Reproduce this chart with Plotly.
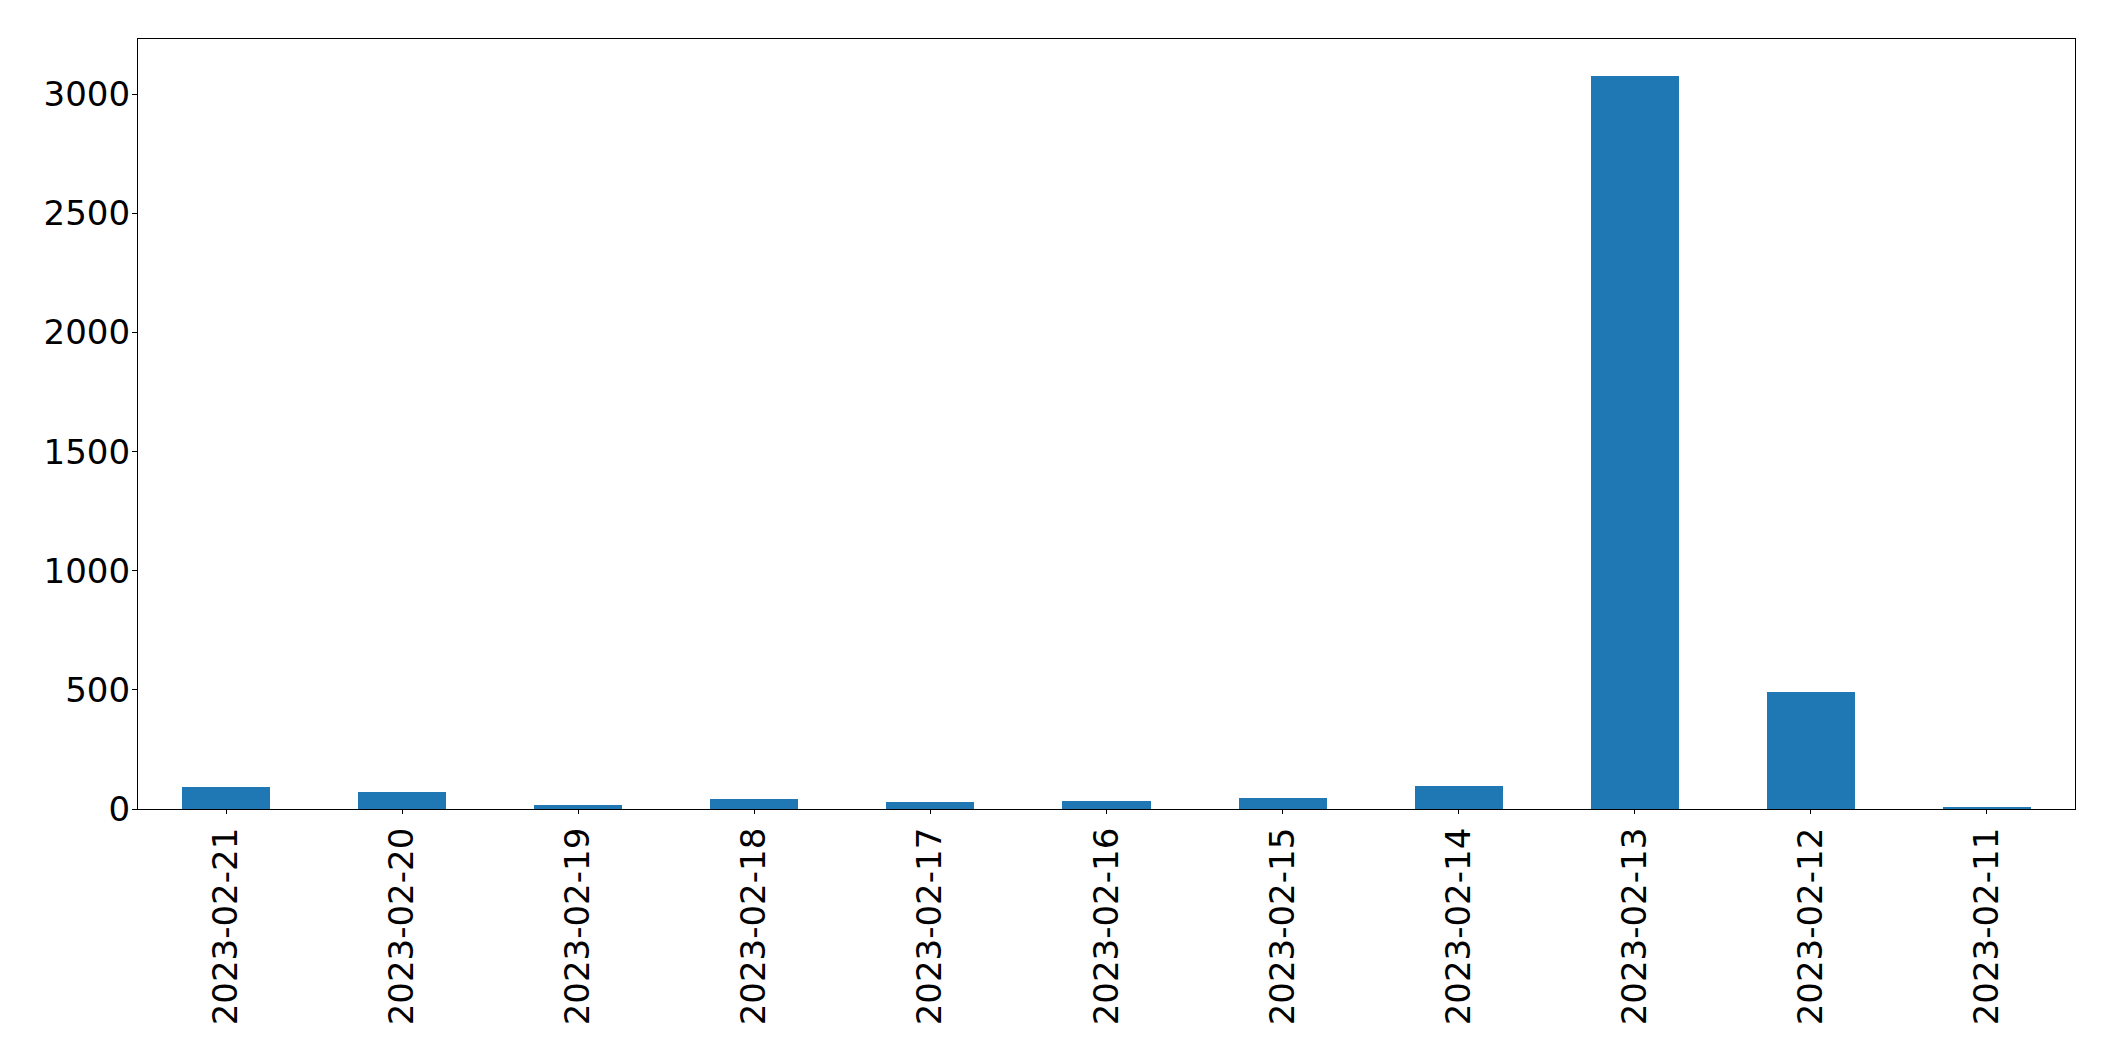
import plotly.graph_objects as go

dates = ["2023-02-21", "2023-02-20", "2023-02-19", "2023-02-18", "2023-02-17",
         "2023-02-16", "2023-02-15", "2023-02-14", "2023-02-13", "2023-02-12", "2023-02-11"]
counts = [94, 73, 18, 43, 29, 34, 46, 98, 3077, 492, 6]
ytick_vals = [0, 500, 1000, 1500, 2000, 2500, 3000]

fig = go.Figure(go.Bar(x=list(range(len(dates))), y=counts, width=0.5,
                       marker=dict(color="#1f77b4", line=dict(width=0))))

font = dict(family="DejaVu Sans", size=34, color="black")
fig.update_layout(
    width=2115, height=1061,
    margin=dict(l=130, r=48, t=31, b=260, pad=0),
    paper_bgcolor="white", plot_bgcolor="white",
    showlegend=False, font=font, bargap=0,
)
fig.update_xaxes(
    range=[-0.5, len(dates) - 0.5], tickmode="array",
    tickvals=list(range(len(dates))), ticktext=dates, tickangle=-90,
    showline=True, linecolor="black", linewidth=1.3, mirror=True,
    ticks="outside", ticklen=4, tickwidth=1.3, tickcolor="black",
    showgrid=False, zeroline=False, tickfont=font,
)
fig.update_yaxes(
    range=[0, 3232], tickmode="array", tickvals=ytick_vals,
    ticktext=[str(v) for v in ytick_vals],
    showline=True, linecolor="black", linewidth=1.3, mirror=True,
    ticks="outside", ticklen=5, tickwidth=1.3, tickcolor="black",
    showgrid=False, zeroline=False, tickfont=font, ticklabelstandoff=-5,
)
fig.write_html("out.html")
